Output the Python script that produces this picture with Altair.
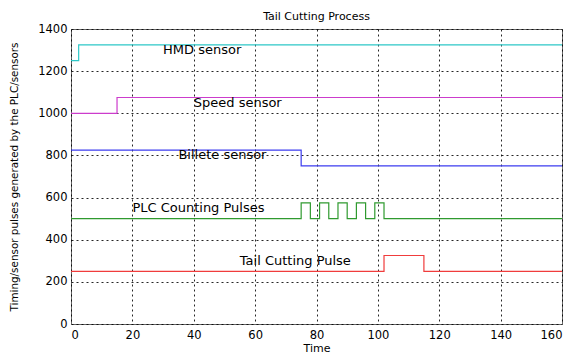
import altair as alt
import pandas as pd

# ---- data ----
series_names = ["HMD sensor", "Speed sensor", "Billete sensor",
                "PLC Counting Pulses", "Tail Cutting Pulse"]

hmd_t = [0, 2.5, 160]
hmd_v = [1250, 1325, 1325]
speed_t = [0, 15, 160]
speed_v = [1000, 1075, 1075]
billet_t = [0, 75, 160]
billet_v = [825, 750, 750]
plc_t = [0, 75, 78, 81, 84, 87, 90, 93, 96, 99, 102, 160]
plc_v = [500, 575, 500, 575, 500, 575, 500, 575, 500, 575, 500, 500]
tail_t = [0, 102, 115, 160]
tail_v = [250, 325, 250, 250]

label_x = [30, 40, 35, 20, 55]
label_y = [1300, 1050, 800, 550, 300]

x_ticks = [0, 20, 40, 60, 80, 100, 120, 140, 160]
y_ticks = [0, 200, 400, 600, 800, 1000, 1200, 1400]

chart_title = "Tail Cutting Process"

colors = ["#2ec8c8", "#cc3ccc", "#3c3cf0", "#2f9a2f", "#f03c3c"]

# ---- tables ----
rows = []
for name, ts, vs in zip(series_names,
                        [hmd_t, speed_t, billet_t, plc_t, tail_t],
                        [hmd_v, speed_v, billet_v, plc_v, tail_v]):
    for i, (t, v) in enumerate(zip(ts, vs)):
        rows.append({"series": name, "t": t, "v": v, "idx": i})
df = pd.DataFrame(rows)

labels = pd.DataFrame({"series": series_names, "t": label_x, "v": label_y})

FONT = "DejaVu Sans"

xscale = alt.Scale(domain=[0, 160], nice=False, zero=False)
yscale = alt.Scale(domain=[0, 1400], nice=False)

x_axis = alt.Axis(values=x_ticks, title="Time", labelPadding=5, format="d",
                  titleX=245.5, titleY=24, titleAlign="center",
                  titleBaseline="middle")
y_axis = alt.Axis(values=y_ticks, format="d",
                  title="Timing/sensor pulses generated by the PLC/sensors",
                  labelPadding=4, titleX=-57, titleY=147.5, titleAngle=270,
                  titleAlign="center", titleBaseline="middle", titleFontSize=10.4)

lines = alt.Chart(df).mark_line(interpolate="step-after", strokeWidth=1.2).encode(
    x=alt.X("t:Q", scale=xscale, axis=x_axis),
    y=alt.Y("v:Q", scale=yscale, axis=y_axis),
    color=alt.Color("series:N", scale=alt.Scale(domain=series_names, range=colors),
                    legend=None),
    detail="series:N",
    order="idx:Q",
)

texts = alt.Chart(labels).mark_text(align="left", baseline="middle", font=FONT,
                                    fontSize=13, color="#000").encode(
    x=alt.X("t:Q", scale=xscale),
    y=alt.Y("v:Q", scale=yscale),
    text="series:N",
)

title_mark = alt.Chart(pd.DataFrame({"title": [chart_title]})).mark_text(
    align="center", baseline="alphabetic", font=FONT, fontSize=11, color="#000"
).encode(
    x=alt.value(245.5), y=alt.value(-9), text="title:N"
)

chart = alt.layer(lines, texts, title_mark).properties(
    width=491, height=295,
    autosize=alt.AutoSizeParams(type="none"),
    padding={"left": 63, "top": 21, "right": 1, "bottom": 32},
    background="white",
).configure_axis(
    grid=True, gridColor="#000", gridDash=[2, 3], gridOpacity=0.85, gridWidth=1,
    domain=False, ticks=False,
    labelFont=FONT, labelFontSize=11.5, labelColor="#000",
    titleFont=FONT, titleFontSize=11, titleFontWeight="normal", titleColor="#000",
).configure_view(stroke="#666", strokeWidth=1)

chart.save("out.html", embed_options={"renderer": "svg", "actions": False})
